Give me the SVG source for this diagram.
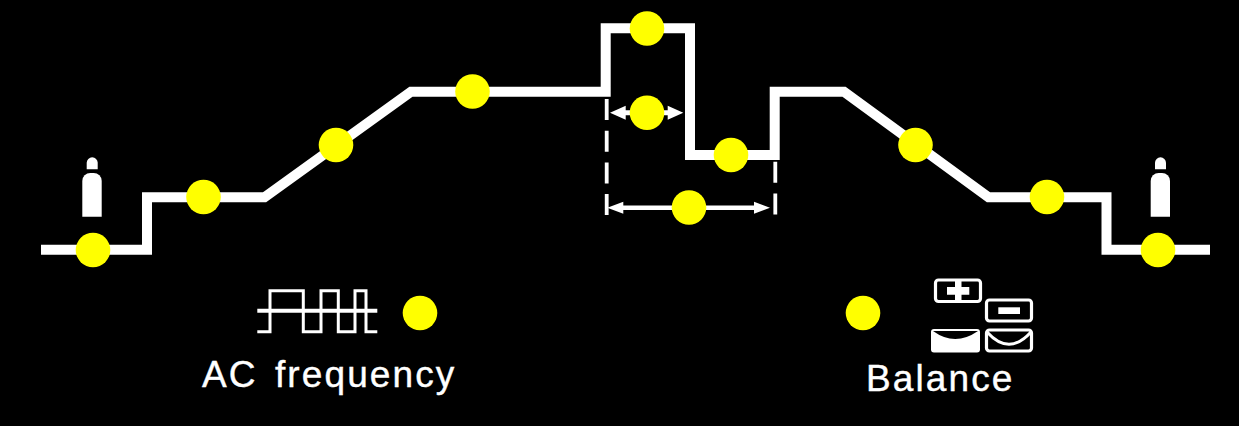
<svg xmlns="http://www.w3.org/2000/svg" width="1239" height="426" viewBox="0 0 1239 426">
<style>
.w{fill:#fff}
.o{fill:none;stroke:#fff}
.d{fill:#ff0}
.t{fill:#fff;stroke:#fff;stroke-width:.4;font-family:"Liberation Sans",Arial,sans-serif;font-size:37px;letter-spacing:2.1px}
</style>
<rect width="1239" height="426" fill="#000"/>
<g id="connectors">
<path class="o" stroke-width="10" d="M41 249.8H147V197.3H264.5L411 91.7H605.7V28.3H690V155H774.7V91.7H844L988.5 197.3H1106.5V249.8H1210"/>
<path class="o" stroke-width="3.8" stroke-dasharray="21 10.7" d="M606.7 99V215"/>
<path class="o" stroke-width="3.8" stroke-dasharray="21 10.7" d="M775.3 161.7V215"/>
<path class="o" stroke-width="5" d="M620 112.7H675"/>
<path class="w" d="M610 112.7L625.7 105.7V119.7ZM683.3 112.7L667.7 105.7V119.7Z"/>
<path class="o" stroke-width="4.5" d="M618 207.7H760"/>
<path class="w" d="M607.3 207.7L623.3 201.7V213.7ZM770 207.7L754 201.7V213.7Z"/>
</g>
<g id="gas-left"><path class="w" d="M86.7 169.3V162.8a5.5 5.5 0 0 1 11 0V169.3Z"/><path class="w" d="M82.3 216.7V181a8 8 0 0 1 8-8h3.4a8 8 0 0 1 8 8V216.7Z"/></g>
<g id="gas-right"><path class="w" d="M1155 169.3V162.8a5.5 5.5 0 0 1 11 0V169.3Z"/><path class="w" d="M1150.7 216.7V181a8 8 0 0 1 8-8h3.3a8 8 0 0 1 8 8V216.7Z"/></g>
<g id="dots">
<circle class="d" cx="93" cy="250" r="17.3"/>
<circle class="d" cx="203.5" cy="197" r="17.3"/>
<circle class="d" cx="336" cy="145" r="17.3"/>
<circle class="d" cx="472.5" cy="91.5" r="17.3"/>
<circle class="d" cx="647" cy="28.5" r="17.3"/>
<circle class="d" cx="647" cy="112.7" r="17.3"/>
<circle class="d" cx="731" cy="155" r="17.3"/>
<circle class="d" cx="689" cy="207.5" r="17.3"/>
<circle class="d" cx="915.5" cy="145" r="17.3"/>
<circle class="d" cx="1047" cy="197" r="17.3"/>
<circle class="d" cx="1158" cy="250" r="17.3"/>
<circle class="d" cx="420" cy="313" r="17.3"/>
<circle class="d" cx="863" cy="313" r="17.3"/>
</g>
<g id="ac-frequency">
<path class="o" stroke-width="4" d="M257.3 310.7H377.3"/>
<path class="o" stroke-width="3" d="M257.3 331.7H270V290.7H303.3V331.7H321V290.7H338.3V331.7H355V290.7H366V331.7H377.3"/>
<text class="t" x="202" y="387" word-spacing="5">AC frequency</text>
</g>
<g id="balance">
<rect class="o" stroke-width="3.2" x="935.5" y="280" width="45" height="21.5" rx="3"/>
<path class="w" d="M947 287H955V280H961.5V287H969.3V294.7H961.5V301.5H955V294.7H947Z"/>
<rect class="o" stroke-width="3.2" x="986.5" y="300" width="45" height="21" rx="3"/>
<rect class="w" x="998.3" y="307.3" width="21.7" height="6.7"/>
<path class="w" d="M931 332a3 3 0 0 1 3-3h43a3 3 0 0 1 3 3v17.5a3 3 0 0 1-3 3h-43a3 3 0 0 1-3-3Z"/>
<path d="M933 331Q955 347 978 331Z" fill="#000"/>
<rect class="o" stroke-width="3.2" x="986.5" y="330" width="45" height="21" rx="3"/>
<path class="o" stroke-width="3" d="M987 332Q1009 356.5 1031 332"/>
<text class="t" x="866" y="391">Balance</text>
</g>
</svg>
